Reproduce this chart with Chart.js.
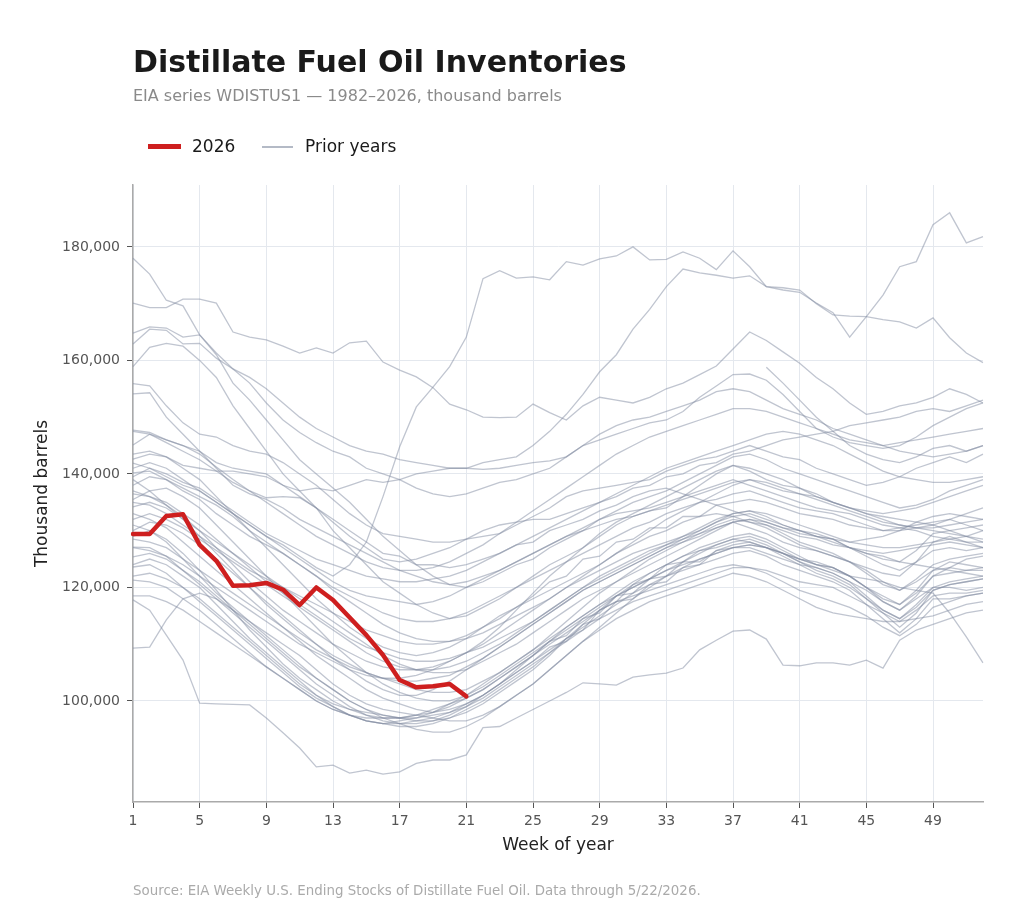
<!DOCTYPE html>
<html>
<head>
<meta charset="utf-8">
<title>Distillate Fuel Oil Inventories</title>
<script src="https://cdn.jsdelivr.net/npm/chart.js@4.4.1/dist/chart.umd.min.js"></script>
<style>
  body { margin: 0; background: #fff; font-family: 'DejaVu Sans', sans-serif; }
  #wrap { position: relative; width: 1024px; height: 922px; overflow: hidden; }
  #chart { position: absolute; left: 0; top: 0; }
  .txt { position: absolute; white-space: nowrap; }
  #title { left: 133px; top: 46.5px; font-size: 30px; line-height: 30px; font-weight: bold; color: #1a1a1a; }
  #subtitle { left: 133px; top: 87.5px; font-size: 16px; line-height: 16px; color: #8a8a8a; }
  #source { left: 133px; top: 884px; font-size: 13.4px; line-height: 13px; color: #aaaaaa; }
  .legend-text { top: 138.3px; font-size: 17px; line-height: 17px; color: #1a1a1a; }
  .legend-line { position: absolute; }
</style>
</head>
<body>
<div id="wrap">
  <canvas id="chart" width="1024" height="922"></canvas>
  <div class="txt" id="title">Distillate Fuel Oil Inventories</div>
  <div class="txt" id="subtitle">EIA series WDISTUS1 — 1982–2026, thousand barrels</div>
  <div class="legend-line" style="left:148px; top:144px; width:33px; height:5px; background:#ce1f1f;"></div>
  <div class="txt legend-text" style="left:192px;">2026</div>
  <div class="legend-line" style="left:262px; top:146px; width:31px; height:2px; background:#b4bac6;"></div>
  <div class="txt legend-text" style="left:305px;">Prior years</div>
  <div class="txt" id="source">Source: EIA Weekly U.S. Ending Stocks of Distillate Fuel Oil. Data through 5/22/2026.</div>
</div>
<script>
// week of year categories and the ticks shown on the axes
const weeks = ["1","2","3","4","5","6","7","8","9","10","11","12","13","14","15","16","17","18","19","20","21","22","23","24","25","26",
  "27","28","29","30","31","32","33","34","35","36","37","38","39","40","41","42","43","44","45","46","47","48","49","50","51","52"];
const weekTicks = [1, 5, 9, 13, 17, 21, 25, 29, 33, 37, 41, 45, 49];
const yTicks = [100000, 120000, 140000, 160000, 180000];

// 2026 so far (million barrels, weeks 1-21)
const values2026 = [129.4, 129.4, 132.6, 132.9, 127.5, 124.7, 120.3, 120.4, 120.8, 119.6, 116.9, 120.0, 117.8,
  114.7, 111.6, 108.1, 103.7, 102.4, 102.6, 103.0, 100.8];

// prior years (million barrels, weeks 1-52)
const p01 = [178,175.2,170.6,169.6,164.5,161,156,153,149.5,146,142.5,140,137.5, 135,132,129,126.5,124,122,120.5,120,121,122.5,124,125,127,
  128.5,130,132,133.5,135,136,137,138.5,140,141.5,143,143.5,142.5, 141,140,139,138,137,136,135,134,134.5,135.5,137,138,139];
const p02 = [170.1,169.3,169.3,170.8,170.8,170.1,165,164.1,163.6,162.5,161.3,162.2,161.3, 163.1,163.4,159.7,158.3,157.1,155.2,152.3,151.3,150,149.9,150,152.3,150.8,
  149.5,152,153.5,153,152.5,153.5,155,156,157.5,159,162,165,163.5, 161.5,159.5,157,155,152.5,150.5,151,152,152.5,153.5,155,154,152.5];
const p03 = [141,142,141,139,137,135,133,131,129,127.5,125.5,123.5,122, 124,128,136,144.8,151.8,155.3,158.9,164.1,174.4,175.8,174.5,174.7,174.2,
  177.4,176.8,177.9,178.4,180,177.7,177.8,179.1,178,176,179.3,176.5,173, 172.4,172,170.1,168.4,164.1,167.7,171.5,176.5,177.4,183.9,186,180.7,181.8];
const p04 = [164.8,165.9,165.7,164.1,164.5,161.3,158.5,157,155,152.5,150,148,146.5, 145,144,143.5,142.5,142,141.5,141,141,142,142.5,143,145,147.5,
  150.5,154,158,161,165.5,169,173,176.1,175.4,175,174.5,174.9,173, 172.8,172.4,170,168,167.8,167.7,167.2,166.8,165.7,167.5,164,161.3,159.6];
const p05 = [162.9,165.5,165.3,162.9,163,160.4,158.5,156,152.5,149.5,147.3,145.5,144, 143,141,140,139,137.5,136.5,136,136.5,137.5,138.5,139,140,141,
  143,145,146,147,148,149,149.5,151,153.5,155.5,157.5,157.6,156.5, 154,151,148,146.5,145.5,145,144.5,145,146.5,148.5,150,151.5,152.5];
const p06 = [158.9,162.3,163,162.5,160,157,152,148,144,140,137,134,131.5, 129,127,125,124.5,125,126,127,128.5,130,131,131.5,132,132,
  133,134,135,136,137.5,138,139.5,140,141.5,142,143.5,144,145, 146,146.5,147,147.5,148.5,149,149.5,150,151,151.5,151,152,153];
const p07 = [155.9,155.5,152,149,147,146.5,145,144,143.5,142,140,138,135.5, 133,131,129.5,129,128.5,128,128,128.5,129,129.5,131,132.5,134,
  136,137,137.5,138,138.5,139,140.5,141.5,142.5,143,144,145,144, 143,142.5,141,140,139,138,138.5,139.5,141,142,143,142,143.5];
const p08 = [154.1,154.3,150,147,144,141,138,136.5,135.5,134,132,130.5,129, 127.5,126,124.5,123,122,121,120.5,121,122,123,124.5,126,127.5,
  129,130.5,132,133,133.5,134,135,136,137,138,139,138,137, 136,135,134,133.5,133,132,131,130.5,130,129,128.5,128,128];
const p09 = [147.7,147.3,146,145,143.5,141.2,139,137,135.8,136,135.8,134,130, 127,124,121,119,117,115.5,114.5,115,116.5,118,120,122,124,
  125.5,127,129,131,132.5,133.5,134,136,138,140,141.5,140.5,139, 138,137.5,136.5,135,134,133,132.5,132,131.5,131,130,129,128];
const p10 = [145.1,147,146,145,144,142,141,140.5,140,138,136,134,132, 130,128,126,125.5,124,124,123.5,124,125,126,127.5,128,130,
  131,132,133.5,134.5,136,137,137.5,136.5,135.5,134.5,133.5,132.5,131.5, 130.5,130,129,128,127,126,125.5,124.5,124,123.5,123,122.5,122];
const p11 = [142.6,143.5,143,141,139,136,133,130,127,124,121,118,115.5, 113,111,109.5,108.5,108,108.5,109.5,111,113,115,116.5,118,119.5,
  121,122.5,124,126,127.5,129,130,131.5,132.5,133,132.5,131.5,131, 130,129,128.5,127.5,127,126.5,126,126.5,127,127.5,128,127.5,127];
const p12 = [141.9,141,139.5,138,137,135,133,131,129,127,125,123,121, 119.5,118.5,118,117.5,117,117.5,118.5,120,121.5,123,124.5,126,127.5,
  129,130,131,132,132.5,133.5,134.5,135.5,136.5,137.5,138.5,139,138, 137,136.5,136,135,134,133,132,131,130.5,130,129.5,129,128.5];
const p13 = [140.2,140.5,139,137,135.5,133,131,129,127.5,126,124,122,120, 118.5,117,115.5,114.5,114,114,114.5,115.5,117,118.5,120,121.5,123,
  124.5,126,127.5,129,130.5,131.5,133,134,135,135.5,136.5,137,136, 135,134,133.5,133,132,131,130,130.5,131,131.5,132,131,130];
const p14 = [139,137,134.5,132,129,126,123,120,117.5,115,112.5,110,107.5, 105.5,103.5,102,101,101,102,103.5,105.5,107.5,109.5,111.5,113.5,115.5,
  117.5,119.5,121,122.5,124,125.5,127,128,129,130.5,131.5,132,131.5, 130.5,129.5,129,128.5,127,126,125,124.5,126.5,129.5,130,130.5,131];
const p15 = [138,139.5,139,137.5,136,134.5,132.5,130,128,126,124,122,119.5, 117.5,115.5,113.5,112,111,110.5,110.5,111,112,113.5,115,116.5,118,
  120,121.5,123,124.5,126,127,128,129,130,131.5,133,133.5,132.5, 131,130,129,128.5,128,128.5,129,130,131.5,132.5,133,132.5,132];
const p16 = [137,136,135,133,131,128.5,126,123.5,121,119,117,115,113, 111,109.5,108.5,107.5,107,107,107.5,108.5,109.5,111,112.5,114,116,
  118,120,122,123.5,125,126.5,127.5,128.5,129.5,130.5,131.5,130.5,129.5, 128,127,126.5,125.5,124.5,123.5,122.5,122,124.5,128,129,128,127];
const p17 = [135.5,137,137.5,136,134,131,128,125,122,119,116,113,110, 107.5,105,103,101.5,100.5,100,100,101,102.5,104.5,106.5,108.5,110.5,
  112.5,114.5,116.5,118.5,120,121.5,123,124.5,126,127.5,128.5,129,128, 126.5,125,124.5,123.5,122,120,118.5,117,119.5,123,124.5,124,123.5];
const p18 = [134.2,135,134,132,130,128,126,124,122,120,118,116,114, 112,110,108,106.5,105.5,105,105,105.5,107,108.5,110,112,114,
  116,118,119.5,121,122.5,124,125.5,127,128.5,130,131.5,132,131, 129.5,128,127,126,124.5,122.5,120.5,119.5,121,123,123.5,123,123.5];
const p19 = [133,132,130.5,128,125.5,123,120.5,118,115.5,113,110.5,108,106, 104,102,100.5,99.5,98.5,98,98.5,99.5,101,103,105,107,109.5,
  110.5,113.5,114.5,117.5,118,120.5,121,123.5,124,126.5,127.5,128,127, 125.5,124,122.5,121.5,120,118,116,114.5,116.5,119.5,120.5,121,121.5];
const p20 = [131,130,128,125,122,119,116.5,114,111.5,109,106.5,104,102, 100,98.5,97.5,97,96.5,96.5,97.5,99,101,103,105.5,108,110.5,
  113,115,117,119,121,122.5,124,125.5,127,128,129,129.5,128.5, 127,125.5,124,123.5,122,120,117.5,116,118.5,122,123.5,125,125.5];
const p21 = [127.1,127,125.5,123,120.5,118,115.5,113,110.5,108,105.5,103,101, 99,97.5,96.5,96,96,96.5,97,98,99.5,101.5,103.5,105.5,108,
  111,112.5,116,117.5,120.5,121.5,124,124.5,126.5,127,128,128.5,127.5, 126,124.5,123.5,122.5,121,118.5,116,114.5,117,120,121,121.5,122];
const p22 = [125.4,126,125,123,121,118.5,116,113.5,111,108.5,106,104,102, 100,98.5,97,96,95,94.5,94.5,95.5,97,99,101,103,105.5,
  108,110.5,113,115.5,118,120,122,123.5,125,126,127,127.5,127, 126,125,124,123.5,122,120,118,117,119,122,122.5,123,123];
const p23 = [123.6,124,122.5,120,117.5,115,112.5,110,107.5,105,102.5,100.5,99, 97.5,96.5,96,95.5,95.5,96,97,98.5,100,102,104,106,108.5,
  111,113.5,116,118.5,120.5,122.5,124,125.5,126.5,127.5,128.5,128,127, 126,124.5,123,122,120.5,118,115.5,113,115.5,119.5,120.5,121,121.5];
const p24 = [121.3,121,120,118,116,113.5,111,108.5,106,104,102,100,98.5, 97.5,97,97,97,97.5,98,99,100.5,102,104,106,108,110.5,
  111.5,114.5,115.5,118.5,119,121.5,122,124.5,124.5,126.5,127,127,126, 125,124,123.5,122.5,121,119.5,117.5,116,118,120,120,119.5,120];
const p25 = [118.5,118.5,117.5,116,114,112,110,108,106,104,102,100,98.5, 97.5,96.5,96,96,96.5,97,98,99.5,101,103,105,107,109,
  111,113,115,117,119,120.5,122,123,124,125,126,126.5,125.5, 124,123,122,121,119.5,117,114.5,112,114.5,118,118,118.5,119];
const p26 = [117.8,116,111.6,107.2,99.6,99.5,99.4,99.3,97,94.4,91.7,88.4,88.7, 87.3,87.8,87.1,87.5,89,89.6,89.6,90.5,95.3,95.5,97,98.5,100,
  101.5,103.2,103,102.8,104.2,104.6,104.9,105.8,109,110.7,112.3,112.5,110.9, 106.3,106.2,106.7,106.7,106.3,107.2,105.8,110.7,112.5,113.5,114.5,115.5,116];
const p27 = [109.3,109.5,114.3,118,119,118,116,114,112,110,108,105.5,103, 101,99.5,98.5,98,97.5,97,96.5,96.5,97.5,99,101,103,105.5,
  108,110.5,112.5,114.5,116,117.5,118.5,119.5,120.5,121.5,122.5,122,121, 119.5,118,116.5,115.5,115,114.5,114,114,114.5,115,116,117,117.5];
const p28 = [124,125,124,122,120,117,114,111,108.5,106,103.5,101,99, 97.5,96.5,96,96.5,97,98,99.5,101,103,105,107,109,111,
  113,115,117,118.5,120,121.5,123,124,125,126,127,127.5,127, 126,125,124,123,122,121.5,121,120,119.5,119,115.5,111.3,106.7];
const p29 = [143.5,144,143,141.5,141,140.5,140.5,140,139.5,138,137,137.5,137, 138,139,138.5,139,140,140.5,141,141,140.8,141,141.5,142,142.3,
  143,145,147,148.5,149.5,150,151,152,153,154.5,155,154.5,153, 151.5,150.5,149.5,148,147,146,145,144,143.5,143,143.5,144,145];
const p30 = [130,131.5,131,129.5,127.5,125,122.5,120,117,114.5,112,110,108, 106.5,105,104,103.5,103.5,104,104.5,106,107.5,109.5,111.5,113.5,115.5,
  117.5,119.5,121,122.5,124,125.5,127,128.5,130,131.5,132.5,133,132, 131,130,129.5,128.5,127,125.5,124,123,124.5,126.5,127,126.5,127];
const p31 = [128.5,128,127,125,123,121,119,117,115,113,111,109,107.5, 106,105,104,103,102,101.5,101.5,102,103.5,105,107,109,111.5,
  114,116.5,119,121,123,125,126.5,128,129.5,131,132,131.5,130.5, 129,127.5,126.5,125.5,124.5,123,121,119.5,121.5,124,125,125.5,126];
const p32 = [127,126.5,125.5,124,122,120,118,116,114,112,110,108.5,107, 105.5,104.5,104,104,104.5,105.5,107,108.5,110.5,113,116,119,122,
  124.5,127,129.5,131.5,133,134.5,136,137.5,139,140.5,141.5,141,140, 139,137.5,136,135,134,133.5,133,133.5,134,135,136,137,138];
const p33 = [135,134.5,133,131,129,127,125,123,121.5,120,118.5,117,115.5, 114,112.5,111.5,110.5,110,110,110.5,111.5,113,114.5,116.5,118.5,121,
  122,125,125.5,128,128.5,130.5,130.5,132.5,132.5,134.5,135,135.5,135, 134,133,132.5,132,131,130.5,130,130,130.5,131,132,133,134];
const p34 = [147.5,147,145.5,144,142.5,140.5,138.5,137,135,133,131,129,127.5, 126,124.5,123.5,123,123,123.5,124.5,126,127.5,129.5,131.5,133.5,135.5,
  137.5,139.5,141.5,143.5,145,146.5,147.5,148.5,149.5,150.5,151.5,151.5,151, 150,149,148,147,146,145.5,145,145.5,146,146.5,147,147.5,148];
const p35 = [129,130,128.5,126,123,119.5,116,112.5,109.5,106.5,104,102,100, 98.5,97.5,97,97,97.5,98.5,99.5,100.5,102,104,106,108,110,
  112,114,116,117.5,118.5,119.5,120.5,121.5,122.5,123.5,124,123.5,122.5, 121,119.5,118.5,117.5,116.5,115,113,111.5,113.5,116.5,117.5,118.5,119];
const p36 = [136.5,136,134.5,132.5,130,127,124,121,118.5,116,114,112,110, 108.5,107,106,105.5,105.5,106,107,108.5,110,112,114,116,118,
  120,122,124,126,128,130,132,133.5,135,136.5,138,139,138.5, 137.5,136.5,135.5,134.5,133.5,132.5,131.5,131,130.5,130.5,131,131.5,132];
const p37 = [null,null,null,null,null,null,null,null,null,null,null,null,null, null,null,null,null,null,null,null,null,null,null,null,null,null,
  null,null,null,null,null,null,null,null,null,null,null,null,158.8, 156,153,150,147.5,145,143.5,142.5,142,143,144.5,145,144,145];
const p38 = [139.5,141,140,138.5,137.5,135.5,133.5,131.5,129.5,128,126.5,125,124, 123,122,121.5,121,121,121.5,122,123,124.5,126,127.5,129,130.5,
  132,133.5,135,136.5,138,139.5,141,142,143,144,145,146,147, 147.5,147,146,145,143.5,142,140.5,139.5,139,138.5,138.5,139,139.5];
const p39 = [132,133,132,130.5,128.5,126.5,124.5,122.5,120.5,118.5,116.5,114.5,112.5, 110.5,108.5,107,106,105.5,105.5,106,107,108.5,110,112,114,116,
  118,120,121.5,123,124.5,126,127.5,129,130.5,132,133,133.5,133, 132,131,130,129,128,127.5,127,127,127.5,128,128.5,129,130];
const p40 = [122,122.5,121.5,120,118,115.5,113,110.5,108,105.5,103,101,99.5, 98.5,98,97.5,97,97,97.5,98,99,100.5,102.5,104.5,106.5,108.5,
  110.5,112.5,114.5,116,117.5,118.5,119.5,120.5,121.5,122.5,123.5,123.5,123, 122,121,120.5,120,118.5,117,115.5,114,116,118.5,119,119,119.5];

const priorSeries = [p01, p02, p03, p04, p05, p06, p07, p08, p09, p10, p11, p12, p13, p14, p15, p16, p17, p18, p19, p20,
  p21, p22, p23, p24, p25, p26, p27, p28, p29, p30, p31, p32, p33, p34, p35, p36, p37, p38, p39, p40];

const toBarrels = arr => arr.map(v => (v === null ? null : Math.round(v * 1000)));

const datasets = [{
  label: '2026',
  data: toBarrels(values2026),
  borderColor: '#ce1f1f',
  borderWidth: 4.5,
  pointRadius: 0,
  tension: 0,
  borderJoinStyle: 'round',
  borderCapStyle: 'round'
}];
priorSeries.forEach(s => {
  datasets.push({
    label: 'Prior years',
    data: toBarrels(s),
    borderColor: 'rgba(130, 140, 162, 0.5)',
    borderWidth: 1.3,
    pointRadius: 0,
    tension: 0
  });
});

Chart.defaults.font.family = "'DejaVu Sans', sans-serif";

const config = {
  type: 'line',
  data: { labels: weeks, datasets: datasets },
  options: {
    responsive: false,
    animation: false,
    devicePixelRatio: 1,
    layout: { padding: { top: 185, right: 41, bottom: 60, left: 0 } },
    plugins: {
      legend: { display: false },
      tooltip: { enabled: false },
      title: { display: false }
    },
    scales: {
      x: {
        type: 'category',
        offset: false,
        afterBuildTicks: scale => {
          scale.ticks = scale.ticks.filter(t => weekTicks.includes(Number(weeks[t.value])));
        },
        afterFit: scale => { scale.height = 60; },
        ticks: { autoSkip: false, maxRotation: 0, color: '#555', font: { size: 14 }, padding: 5 },
        grid: { color: '#e4e8ee', lineWidth: 1, tickColor: '#555', tickLength: 6 },
        border: { color: '#aaa', width: 1.5 },
        title: { display: true, text: 'Week of year', color: '#222', font: { size: 17 }, padding: { top: 0, bottom: 6 } }
      },
      y: {
        min: 82200,
        max: 190900,
        afterBuildTicks: scale => { scale.ticks = yTicks.map(v => ({ value: v })); },
        afterFit: scale => { scale.width = 133; },
        ticks: {
          color: '#555',
          font: { size: 14 },
          padding: 7,
          callback: v => v.toLocaleString('en-US')
        },
        grid: { color: '#e4e8ee', lineWidth: 1, tickColor: '#555', tickLength: 6 },
        border: { color: '#aaa', width: 1.5 },
        title: { display: true, text: 'Thousand barrels', color: '#222', font: { size: 17 }, padding: { top: 32, bottom: 0 } }
      }
    }
  }
};

window.onload = function () {
  const ctx = document.getElementById('chart');
  new Chart(ctx, config);
};
</script>
</body>
</html>
